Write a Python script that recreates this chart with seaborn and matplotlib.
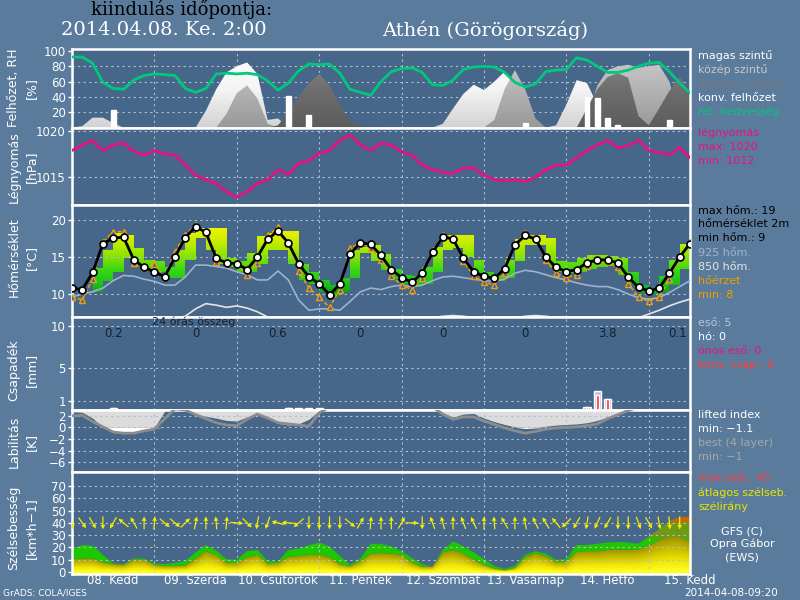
import numpy as np
import matplotlib
matplotlib.use("Agg")
import matplotlib.pyplot as plt
import seaborn as sns
from matplotlib.colors import LinearSegmentedColormap, ListedColormap, BoundaryNorm, Normalize
from matplotlib.path import Path
from matplotlib.patches import PathPatch
from matplotlib.transforms import blended_transform_factory

sns.set_style("dark")
plt.rcParams["font.family"] = ["DejaVu Sans"]

# ---- data: 3-hourly steps starting 2014-04-08 00 UTC (x axis in days) ----
steps = np.arange(61)
days = steps / 8.0

rh = [92, 92, 84, 59, 51, 50, 62, 68, 70, 69,
      68, 51, 46, 51, 70, 71, 70, 71, 69, 61,
      49, 58, 74, 83, 82, 83, 71, 50, 46, 42,
      60, 73, 77, 78, 72, 56, 55, 62, 76, 79,
      80, 79, 72, 59, 53, 57, 73, 75, 76, 91,
      88, 80, 72, 72, 75, 80, 84, 85, 73, 58,
      45]
cloud_high = [0, 2, 13, 13, 6, 0, 0, 0, 0, 0,
              0, 0, 0, 22, 50, 72, 80, 85, 70, 10,
              12, 0, 0, 0, 0, 0, 0, 0, 0, 0,
              0, 0, 0, 0, 0, 0, 5, 25, 44, 56,
              49, 60, 73, 60, 30, 0, 0, 3, 30, 62,
              58, 30, 0, 0, 0, 0, 0, 0, 0, 0,
              0]
cloud_mid = [0, 0, 0, 0, 0, 0, 0, 0, 0, 0,
             0, 0, 0, 0, 0, 18, 45, 55, 38, 5,
             0, 0, 0, 0, 0, 0, 0, 0, 0, 0,
             0, 0, 0, 0, 0, 0, 0, 0, 0, 0,
             0, 10, 50, 75, 50, 12, 0, 0, 0, 0,
             15, 55, 75, 80, 82, 78, 80, 82, 60, 15,
             5]
cloud_low = [0, 0, 0, 0, 0, 0, 0, 0, 0, 0,
             0, 0, 0, 0, 0, 0, 0, 0, 0, 0,
             3, 20, 40, 58, 70, 55, 30, 8, 2, 2,
             1, 0, 0, 0, 0, 0, 0, 0, 0, 0,
             0, 0, 0, 0, 0, 0, 0, 0, 0, 0,
             25, 50, 66, 71, 65, 15, 3, 25, 48, 66,
             45]
conv_steps = [4, 21, 23, 44, 50, 51, 52, 53, 58]
conv_cloud = [23, 41, 16, 6, 40, 38, 13, 3, 10]

pressure = [1017.9, 1018.5, 1019.0, 1017.9, 1018.5, 1018.7, 1017.8, 1017.4, 1017.9, 1017.5,
            1017.4, 1016.3, 1015.2, 1014.7, 1014.3, 1013.4, 1012.8, 1013.4, 1014.3, 1014.7,
            1015.8, 1015.3, 1016.5, 1016.8, 1017.6, 1017.9, 1019.0, 1019.6, 1018.5, 1017.9,
            1018.7, 1018.5, 1017.7, 1017.4, 1016.3, 1015.8, 1015.5, 1015.4, 1016.0, 1016.0,
            1015.2, 1014.7, 1014.6, 1014.7, 1014.5, 1015.0, 1015.8, 1016.3, 1016.3, 1017.1,
            1017.9, 1018.5, 1019.0, 1018.2, 1018.4, 1019.0, 1017.9, 1017.7, 1017.4, 1018.2,
            1017.1]

temp2m = [10.8, 10.6, 12.9, 16.8, 17.5, 17.7, 14.6, 13.6, 13.0, 12.3,
          15.0, 17.6, 19.1, 18.3, 14.8, 14.2, 14.1, 13.3, 15.0, 17.4,
          18.5, 16.9, 14.1, 12.3, 11.4, 9.9, 11.3, 15.4, 16.9, 16.7,
          15.2, 13.3, 12.2, 11.6, 12.8, 15.6, 17.7, 17.4, 14.8, 13.0,
          12.4, 12.1, 13.4, 16.6, 17.9, 17.4, 15.0, 13.6, 13.0, 13.3,
          14.2, 14.6, 14.6, 14.2, 12.3, 10.9, 10.4, 10.8, 12.8, 15.0,
          16.8]
feels_like = [9.6, 9.2, 12.0, 17.0, 18.4, 18.4, 14.2, 13.6, 14.0, 12.3,
              15.7, 18.0, 19.3, 18.2, 14.3, 14.2, 14.1, 12.5, 14.2, 17.9,
              19.0, 16.8, 13.1, 10.8, 9.6, 8.2, 10.6, 16.2, 16.9, 16.2,
              14.6, 12.4, 11.2, 10.6, 12.2, 15.6, 18.0, 17.6, 14.4, 12.4,
              11.6, 11.2, 12.8, 16.8, 18.2, 17.6, 14.6, 12.8, 12.2, 12.6,
              13.8, 14.4, 14.4, 13.6, 11.4, 9.6, 9.0, 9.6, 12.0, 14.8,
              17.0]
temp925 = [9.6, 10.0, 10.3, 10.8, 11.8, 12.5, 12.4, 12.0, 11.7, 11.2,
           11.2, 12.3, 13.9, 13.9, 13.7, 13.5, 13.0, 12.6, 11.9, 11.9,
           13.1, 11.9, 9.2, 7.8, 8.0, 8.0, 7.8, 9.0, 10.3, 10.8,
           10.6, 11.0, 11.2, 11.0, 11.2, 11.8, 12.3, 12.4, 12.2, 12.0,
           11.8, 11.7, 12.0, 12.8, 13.2, 13.0, 12.6, 12.2, 11.9, 11.5,
           11.2, 11.0, 11.0, 10.6, 10.0, 9.5, 9.3, 9.5, 10.2, 11.0,
           11.8]
temp850 = [5.5, 5.2, 5.0, 5.2, 5.5, 5.8, 6.0, 6.2, 6.3, 6.5,
           6.7, 7.0, 8.0, 8.7, 8.5, 8.2, 8.4, 8.1, 7.6, 6.9,
           6.5, 6.0, 5.5, 5.0, 4.8, 4.8, 5.2, 5.8, 6.2, 6.4,
           6.5, 6.6, 6.7, 6.6, 6.6, 6.8, 7.0, 7.1, 7.0, 6.8,
           6.7, 6.6, 6.6, 6.8, 7.0, 7.1, 7.0, 6.8, 6.6, 6.4,
           6.3, 6.2, 6.2, 6.3, 6.5, 6.8, 7.3, 7.8, 8.4, 8.9,
           9.3]
# 6-hourly min/max temperature band (drawn as steps)
band_lo = [np.nan, np.nan, 10.3, 11.7, 13.0, 14.8, 13.8, 13.2, 13.0, 12.1,
           12.1, 14.6, 17.6, 15.9, 14.1, 13.7, 13.0, 13.0, 14.1, 15.9,
           15.9, 14.1, 11.9, 11.4, 10.3, 9.6, 10.3, 12.1, 15.5, 14.5,
           13.2, 12.0, 11.3, 11.0, 11.4, 13.0, 16.0, 16.2, 15.0, 12.8,
           12.0, 11.8, 12.2, 14.5, 16.6, 16.6, 14.0, 13.0, 12.8, 13.0,
           13.4, 13.6, 13.8, 12.6, 11.4, 10.2, 10.0, 10.3, 11.2, 13.4,
           13.4]
band_hi = [np.nan, np.nan, 13.5, 15.9, 18.2, 18.0, 16.2, 14.6, 14.4, 13.6,
           15.9, 18.2, 18.9, 18.9, 18.9, 14.8, 14.4, 15.5, 17.8, 18.2,
           18.5, 18.5, 14.1, 13.0, 11.9, 11.2, 12.1, 15.9, 16.4, 16.6,
           15.4, 13.4, 12.6, 12.4, 13.6, 16.4, 17.9, 18.0, 18.0, 14.6,
           13.0, 12.6, 14.6, 17.4, 18.0, 18.0, 17.6, 14.4, 14.3, 14.8,
           15.2, 15.2, 15.1, 14.8, 13.0, 11.2, 10.8, 12.4, 14.6, 16.8,
           16.8]

rain_steps = [4, 21, 22, 23, 24, 50, 51, 52]
rain_mm = [0.2, 0.15, 0.15, 0.15, 0.15, 0.3, 2.2, 1.3]
conv_mm = [0.2, 0.15, 0.1, 0.1, 0.1, 0.3, 1.8, 1.3]
day_sums = ["0.2", "0", "0.6", "0", "0", "0", "3.8", "0.1"]

lifted = [2.7, 2.6, 1.6, 0.0, -0.8, -1.1, -0.8, -0.4, -0.1, 2.8,
          3.5, 3.0, 2.3, 1.9, 1.6, 1.2, 1.1, 1.8, 2.4, 1.6,
          0.7, 0.4, 0.6, 1.4, 2.9, 3.5, 3.5, 3.5, 3.5, 3.5,
          3.5, 3.5, 3.5, 3.5, 3.5, 3.5, 2.5, 1.8, 2.3, 2.4,
          1.6, 1.0, 0.5, 0.1, -0.2, -0.1, 0.2, 0.4, 0.5, 0.6,
          0.8, 1.2, 1.8, 2.3, 2.9, 3.5, 3.5, 3.5, 3.5, 3.5,
          3.5]
best4 = [2.0, 2.1, 1.0, 0.1, -0.8, -1.0, -1.0, -0.6, -0.3, 1.5,
         3.2, 3.0, 2.2, 1.5, 0.8, 0.4, 0.3, 1.4, 2.3, 1.6,
         0.8, 0.6, 0.4, 0.2, 2.5, 3.5, 3.5, 3.5, 3.5, 3.5,
         3.5, 3.5, 3.5, 3.5, 3.5, 3.5, 2.3, 1.4, 1.8, 1.8,
         1.1, 0.5, -0.1, -0.6, -1.0, -0.7, -0.3, -0.1, 0.0, 0.1,
         0.3, 0.6, 1.5, 2.2, 2.9, 3.5, 3.5, 3.5, 3.5, 3.5,
         3.5]

wind_avg = [10.5, 11, 11, 8, 6.5, 6, 10, 10, 6, 5,
            5, 5.5, 11, 17, 14, 7.5, 7.5, 12, 14, 7,
            7.5, 12.5, 13, 14, 14, 12, 6.5, 5, 9, 15,
            15.5, 15, 14, 8, 4.5, 4.5, 16, 18, 15, 10,
            6, 3, 1.5, 3.5, 12, 15.5, 13, 8.5, 8.5, 16.5,
            17, 17, 18, 18.5, 18, 18.5, 21.5, 26, 28.5, 28.5,
            25]
wind_max = [19, 22, 21.5, 14, 7, 6.5, 11, 11, 7, 6.5,
            7.5, 9, 16, 22, 17.5, 10.5, 10, 17, 18, 9,
            8.5, 18, 19, 22, 24, 21, 13, 6, 11, 23,
            23, 21, 17, 11.5, 6.5, 4.5, 18, 25, 21, 16,
            10.5, 5, 2.5, 5, 14, 17, 15, 10, 10.5, 22,
            22, 23, 24, 24.5, 24, 23, 29, 35, 41.5, 44.5,
            45]
# direction the arrow points to, degrees counter-clockwise from east
wind_to_deg = [-80, -55, -60, -90, -120, 140, 120, 90, 85, -40,
               -40, 45, 80, 90, 95, 85, -5, -45, -100, -110,
               165, 175, -140, -90, -90, -90, -90, -40, 60, 85,
               90, 90, 60, 0, -90, 110, 105, 90, 110, 115,
               90, 95, 120, 90, 100, 115, 120, 130, -135, -120,
               -100, -115, -120, -90, -90, -70, -60, -80, -85, -90,
               np.nan]

day_labels = ["08. Kedd", "09. Szerda", "10. Csütörtök", "11. Péntek",
              "12. Szombat", "13. Vasárnap", "14. Hétfő", "15. Kedd"]

OUTER = "#5a7b9c"
INNER = "#466789"
GRID = "#b4bfcc"
DOTS = (0, (2, 3))

fig = plt.figure(figsize=(8, 6), dpi=100, facecolor=OUTER)


def make_panel(top, bottom):
    ax = fig.add_axes([72 / 800, 1 - bottom / 600, 618 / 800, (bottom - top) / 600])
    ax.set_facecolor(INNER)
    for s in ax.spines.values():
        s.set_color("white")
        s.set_linewidth(1.8)
    ax.set_xticks([])
    ax.tick_params(axis="y", colors="white", labelsize=8.5, length=3, width=1, pad=1.5, left=True)
    return ax


def grid(ax, yvals, z=2.5):
    for v in yvals:
        ax.axhline(v, color=GRID, lw=0.8, ls=DOTS, zorder=z)
    for d in range(1, 8):
        ax.axvline(d, color=GRID, lw=0.8, ls=DOTS, zorder=z)


def gradient_fill(ax, y1, y2, img, extent, cmap, norm=None, step=None, z=1):
    poly = ax.fill_between(days, y1, y2, step=step, facecolor="none", edgecolor="none")
    patch = PathPatch(Path.make_compound_path(*poly.get_paths()), transform=ax.transData,
                      facecolor="none", edgecolor="none")
    ax.add_patch(patch)
    im = ax.imshow(img, extent=extent, origin="lower", aspect="auto", cmap=cmap, norm=norm,
                   zorder=z, interpolation="bilinear")
    im.set_clip_path(patch)


# ---- cloud / RH panel ----
ax1 = make_panel(49, 128)
grid(ax1, [20, 40, 60, 80], z=0.5)
vert = np.linspace(0, 1, 256)[:, None]
cm_high = LinearSegmentedColormap.from_list("hi", ["#d2d2d2", "#f4f4f4", "#ffffff"])
cm_mid = LinearSegmentedColormap.from_list("mid", ["#989898", "#b4b4b4", "#cdcdcd"])
cm_low = LinearSegmentedColormap.from_list("low", ["#5c5c5c", "#6e6e6e", "#8a8a8a"])
gradient_fill(ax1, 0, cloud_high, vert, (0, 7.5, 0, 100), cm_high, z=1)
gradient_fill(ax1, 0, cloud_mid, vert, (0, 7.5, 0, 100), cm_mid, z=1.1)
gradient_fill(ax1, 0, cloud_low, vert, (0, 7.5, 0, 100), cm_low, z=1.2)
ax1.bar(days[conv_steps], conv_cloud, width=0.06, color="white", zorder=1.5)
sns.lineplot(x=days, y=rh, ax=ax1, color="#00c87d", lw=2, zorder=3)
ax1.set_ylim(-0.5, 102.5)
ax1.set_yticks([20, 40, 60, 80, 100])

# ---- pressure panel ----
ax2 = make_panel(128, 205)
grid(ax2, [1015, 1020])
sns.lineplot(x=days, y=pressure, ax=ax2, color="#e6127f", lw=2, zorder=3)
ax2.set_ylim(1011.95, 1020.35)
ax2.set_yticks([1015, 1020])

# ---- temperature panel ----
ax3 = make_panel(205, 317)
cm_t = LinearSegmentedColormap.from_list("tb", ["#0a960a", "#1cc21c", "#3cd814", "#8ce400",
                                                 "#c8ee00", "#f2f200"])
tvals = np.linspace(6, 22, 320)[:, None]
gradient_fill(ax3, band_lo, band_hi, tvals, (0, 7.5, 6, 22), cm_t, norm=Normalize(9.5, 19),
              step="post", z=1)
grid(ax3, [10, 15, 20])
sns.lineplot(x=days, y=temp925, ax=ax3, color="#9fb1cc", lw=1.2, zorder=3)
sns.lineplot(x=days, y=temp850, ax=ax3, color="#e4e4e4", lw=1.2, zorder=3)
sns.lineplot(x=days, y=feels_like, ax=ax3, color="#f0a000", lw=1.1, ls=(0, (2.5, 1.5)),
             marker="^", markersize=5, markerfacecolor="#3a5fd0", markeredgecolor="#f0a000",
             markeredgewidth=1, zorder=4)
sns.lineplot(x=days, y=temp2m, ax=ax3, color="black", lw=2, marker="o", markersize=5,
             markerfacecolor="white", markeredgecolor="black", markeredgewidth=1.2, zorder=5)
ax3.set_ylim(6.9, 22.0)
ax3.set_yticks([10, 15, 20])

# ---- precipitation panel ----
ax4 = make_panel(317, 410)
grid(ax4, [1, 5, 10])
ax4.bar(days[rain_steps], rain_mm, width=0.085, color="#b4c8e6", zorder=3)
ax4.bar(days[rain_steps], conv_mm, width=0.035, color="#ff3232", zorder=3.5)
ax4.text(0.97, 10.45, "24 órás összeg", color="#17202e", fontsize=8, ha="left", va="center")
for i, s in enumerate(day_sums):
    ax4.text(min(i + 0.5, 7.35), 9.05, s, color="#17202e", fontsize=8.5, ha="center", va="center")
ax4.set_ylim(-0.05, 11.07)
ax4.set_yticks([1, 5, 10])

# ---- lifted index panel ----
ax5 = make_panel(410, 472)
li = np.array(lifted)
ax5.fill_between(days, np.minimum(np.maximum(li, 0), 3.0), 3.0, color="#dcdcdc", lw=0, zorder=1)
ax5.fill_between(days, np.minimum(li, 0), 0, color="white", lw=0, zorder=1)
grid(ax5, [2, 0, -2, -4, -6])
sns.lineplot(x=days, y=best4, ax=ax5, color="#8c8c8c", lw=2, zorder=3)
ax5.set_ylim(-7.7, 3.0)
ax5.set_yticks([2, 0, -2, -4, -6])
ax5.set_yticklabels(["2", "0", "\u22122", "\u22124", "\u22126"])

# ---- wind panel ----
ax6 = make_panel(472, 574)
avg = np.array(wind_avg)
gx = np.linspace(0, 7.5, 600)
gy = np.linspace(-2, 50, 400)
frac = np.clip(gy[:, None] / np.maximum(np.interp(gx, days, avg), 0.5)[None, :], 0, 1)
cm_w = LinearSegmentedColormap.from_list("wa", ["#ffff28", "#f0e600", "#c8bc00", "#9a9200"])
gradient_fill(ax6, -2, avg, frac, (0, 7.5, -2, 50), cm_w, z=1)
cm_g = ListedColormap(["#1ec800", "#6e9a14", "#c86a00"])
gradient_fill(ax6, avg, wind_max, gy[:, None] * np.ones((1, 4)), (0, 7.5, -2, 50), cm_g,
              norm=BoundaryNorm([-10, 27, 40, 100], 3), z=1)
grid(ax6, [10, 20, 30, 40, 50, 60, 70], z=2.5)
ang = np.deg2rad(np.array(wind_to_deg, dtype=float))
L = 13
ax6.quiver(days, np.full(61, 40.0), np.cos(ang) * L, np.sin(ang) * L, angles="uv",
           units="dots", scale_units="dots", scale=1, pivot="middle", width=1.2,
           headwidth=4, headlength=4, headaxislength=3.5, color="#f5f000", zorder=4)
ax6.set_ylim(-1.6, 81.4)
ax6.set_yticks([0, 10, 20, 30, 40, 50, 60, 70])
tr = blended_transform_factory(ax6.transData, fig.transFigure)
for i, lab in enumerate(day_labels):
    ax6.text(i + 0.5, 1 - 584 / 600, lab, transform=tr, color="white", fontsize=8.5,
             ha="center", va="baseline")

for ax in (ax1, ax2, ax3, ax4, ax5, ax6):
    ax.set_xlim(0, 7.5)
    ax.set_xlabel("")
    ax.set_ylabel("")

# ---- left axis titles ----
ylabels = [("Felhőzet, RH", "[%]", 88), ("Légnyomás", "[hPa]", 167),
           ("Hőmérséklet", "[°C]", 257), ("Csapadék", "[mm]", 370),
           ("Labilitás", "[K]", 442), ("Szélsebesség", "[km*h\u22121]", 528)]
for l1, l2, yc in ylabels:
    fig.text(14 / 800, 1 - yc / 600, l1, rotation=90, color="white", fontsize=9,
             ha="center", va="center")
    fig.text(31 / 800, 1 - yc / 600, l2, rotation=90, color="white", fontsize=9,
             ha="center", va="center")

# ---- right side legend ----
legend = [("magas szintű", "white", 55), ("közép szintű", "#c8c8c8", 69),
          ("alacsony szintű", "#7a7a7a", 83), ("konv. felhőzet", "white", 97),
          ("rel. nedvesség", "#00c87d", 111),
          ("légnyomás", "#e6127f", 132), ("max: 1020", "#e6127f", 146), ("min: 1012", "#e6127f", 160),
          ("max hőm.: 19", "black", 210), ("hőmérséklet 2m", "black", 223), ("min hőm.: 9", "black", 237),
          ("925 hőm.", "#a3b3cc", 252), ("850 hőm.", "#e4e4e4", 266),
          ("hőérzet", "#f0a000", 280), ("min: 8", "#f0a000", 294),
          ("eső: 5", "#b4c8e0", 322), ("hó: 0", "white", 336),
          ("ónos eső: 0", "#e6127f", 350), ("konv. csap.: 6", "#ff3c3c", 364),
          ("lifted index", "white", 414), ("min: \u22121.1", "white", 428),
          ("best (4 layer)", "#a8a8a8", 442), ("min: \u22121", "#a8a8a8", 456),
          ("max seb.: 45", "#ff3c3c", 477), ("átlagos szélseb.", "#e6e600", 492),
          ("szélirány", "#e6e600", 506)]
for txt, col, y in legend:
    fig.text(698 / 800, 1 - (y + 4) / 600, txt, color=col, fontsize=8, ha="left", va="baseline")
for txt, y in [("GFS (C)", 530), ("Opra Gábor", 543), ("(EWS)", 556)]:
    fig.text(742 / 800, 1 - (y + 4) / 600, txt, color="white", fontsize=8, ha="center", va="baseline")

# ---- header / footer ----
fig.text(182 / 800, 1 - 9 / 600, "kiindulás időpontja:", color="black", fontsize=13,
         family="DejaVu Serif", ha="center", va="center")
fig.text(164 / 800, 1 - 30 / 600, "2014.04.08. Ke. 2:00", color="white", fontsize=14,
         family="DejaVu Serif", ha="center", va="center")
fig.text(485 / 800, 1 - 30 / 600, "Athén (Görögország)", color="white", fontsize=14,
         family="DejaVu Serif", ha="center", va="center")
fig.text(3 / 800, 1 - 593 / 600, "GrADS: COLA/IGES", color="white", fontsize=6.5,
         ha="left", va="center")
fig.text(778 / 800, 1 - 593 / 600, "2014-04-08-09:20", color="white", fontsize=7.5,
         ha="right", va="center")

fig.savefig("out.png", dpi=100, facecolor=OUTER)
